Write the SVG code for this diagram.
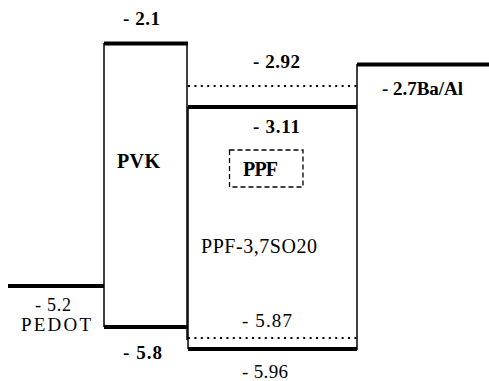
<svg xmlns="http://www.w3.org/2000/svg" width="489" height="381" viewBox="0 0 489 381">
<style>
.t{font-family:"Liberation Serif","Times New Roman",serif;font-size:19px;fill:#000}
.b{font-weight:bold}
.lg{font-size:20px}
.sm{font-size:18px}
.thick{stroke:#000;stroke-width:4;fill:none}
.thin{stroke:#000;stroke-width:1.5;fill:none}
.dot{stroke:#000;stroke-width:2;stroke-dasharray:2 4.4;fill:none}
.dash{stroke:#000;stroke-width:1.3;stroke-dasharray:5 3;fill:none}
</style>
<rect width="489" height="381" fill="#fff"/>
<g id="connectors">
<line class="thick" x1="8" y1="286" x2="104" y2="286"/>
<line class="thick" x1="357" y1="64.5" x2="489" y2="64.5"/>
</g>
<g id="pedot">
<text class="t sm" x="53" y="311" text-anchor="middle" textLength="36">- 5.2</text>
<text class="t" x="56" y="331" text-anchor="middle" textLength="70">PEDOT</text>
</g>
<g id="pvk">
<line class="thin" x1="104" y1="43" x2="104" y2="327"/>
<line class="thin" x1="187" y1="43" x2="187" y2="340"/>
<line class="thick" x1="104" y1="43.5" x2="188" y2="43.5"/>
<line class="thick" x1="104" y1="327" x2="188" y2="327"/>
<text class="t b" x="141.5" y="25" text-anchor="middle" textLength="37">- 2.1</text>
<text class="t b lg" x="138.5" y="168" text-anchor="middle" textLength="43">PVK</text>
<text class="t b" x="142.5" y="359" text-anchor="middle" textLength="39">- 5.8</text>
</g>
<g id="ppf37">
<line class="dot" x1="188" y1="86" x2="357" y2="86"/>
<line class="thick" x1="188" y1="107" x2="357" y2="107"/>
<line class="thin" x1="188" y1="107" x2="188" y2="349"/>
<line class="dot" x1="188" y1="338" x2="357" y2="338"/>
<line class="thick" x1="188" y1="349" x2="357" y2="349"/>
<text class="t b" x="276.5" y="68" text-anchor="middle" textLength="47">- 2.92</text>
<text class="t b" x="276.5" y="133" text-anchor="middle" textLength="47">- 3.11</text>
<text class="t lg" x="201" y="253" textLength="116">PPF-3,7SO20</text>
<text class="t" x="267" y="327" text-anchor="middle" textLength="50">- 5.87</text>
<text class="t" x="265" y="378" text-anchor="middle" textLength="46">- 5.96</text>
</g>
<g id="ppf">
<rect class="dash" x="229.5" y="150" width="73.5" height="37"/>
<text class="t b lg" x="260.5" y="176" text-anchor="middle" textLength="35">PPF</text>
</g>
<g id="baal">
<line class="thin" x1="357" y1="64" x2="357" y2="350"/>
<text class="t b" x="382" y="95" textLength="81">- 2.7Ba/Al</text>
</g>
</svg>
